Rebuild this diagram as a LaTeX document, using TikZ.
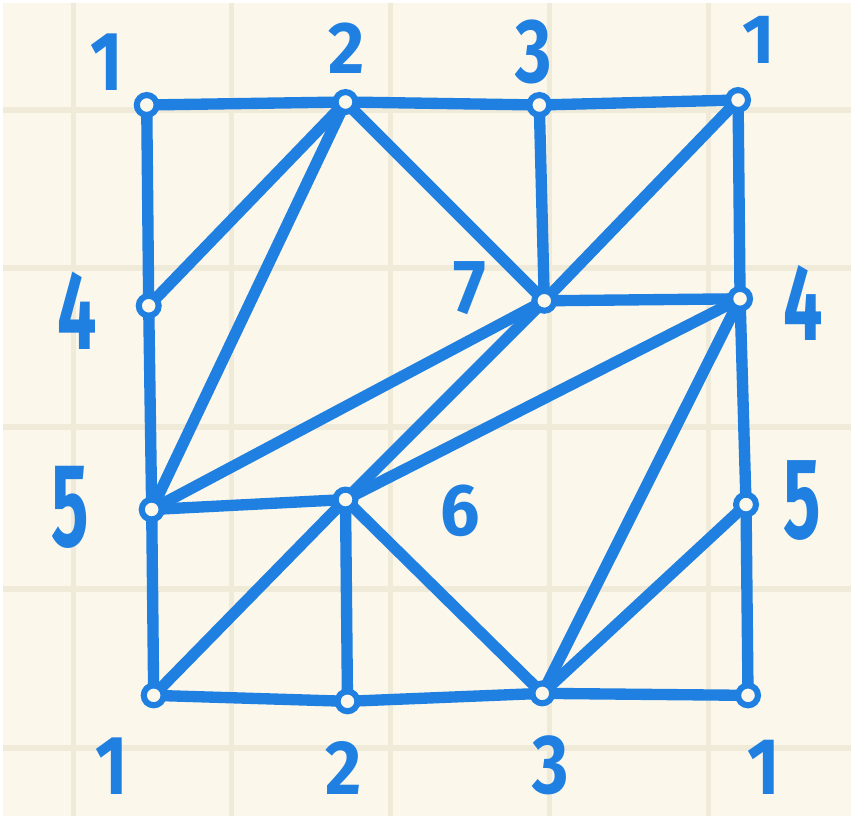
\documentclass[tikz,border=0pt]{standalone}
\usepackage{fontspec}
\usepackage{graphicx}
\setsansfont{Fira Sans}
\definecolor{paper}{HTML}{FBF8EB}
\definecolor{gridline}{HTML}{F0EAD8}
\definecolor{pen}{HTML}{1F80E2}
\newcommand{\tall}[2]{\scalebox{1}[#1]{#2}}
\tikzset{
  edge/.style={pen,line width=6.5pt,line cap=round},
  vtx/.style={circle,draw=pen,fill=paper,line width=3.5pt,minimum size=0.4cm,inner sep=0pt},
  lbl/.style={pen,inner sep=0pt,font=\sffamily\bfseries\fontsize{40}{40}\selectfont}
}
\begin{document}
\begin{tikzpicture}[x=0.02cm,y=-0.02cm]
  % paper and grid
  \fill[paper] (0,0) rectangle (854,818);
  \foreach \gx in {71,230,390,550,710}
    \draw[gridline,line width=3pt] (\gx,0) -- (\gx,818);
  \foreach \gy in {108,267,427,590,750}
    \draw[gridline,line width=3pt] (0,\gy) -- (854,\gy);

  % vertices of the square (opposite sides glued)
  \foreach \n/\x/\y in {tl/145/103, t2/345/100, t3/540/103, tr/740/98,
                        l4/147/305, v7/545/300, r4/742/298,
                        l5/150/510, v6/345/500, r5/748/505,
                        bl/152/697, b2/347/703, b3/543/695, br/750/697}
    \coordinate (\n) at (\x,\y);

  % boundary
  \foreach \a/\b in {tl/t2, t2/t3, t3/tr, tl/l4, l4/l5, l5/bl,
                     tr/r4, r4/r5, r5/br, bl/b2, b2/b3, b3/br}
    \draw[edge] (\a) -- (\b);

  % interior edges
  \foreach \a/\b in {l4/t2, l5/t2, t2/v7, t3/v7, v7/tr, v7/r4, l5/v7,
                     v6/v7, v6/r4, l5/v6, bl/v6, v6/b2, v6/b3, b3/r4, b3/r5}
    \draw[edge] (\a) -- (\b);

  % vertex marks
  \foreach \n in {tl,t2,t3,tr,l4,v7,r4,l5,v6,r5,bl,b2,b3,br}
    \node[vtx] at (\n) {};

  % labels
  \node[lbl] (ltl) at (105,60) {\tall{1.2}{1}};
  \node[lbl] (lt2) at (346,46) {\tall{1.05}{2}};
  \node[lbl] (lt3) at (534,50) {\tall{1.3}{3}};
  \node[lbl] (ltr) at (761,38) {\tall{1.0}{1}};
  \node[lbl] (ll4) at (75,310) {\tall{1.6}{4}};
  \node[lbl] (lv7) at (470,287) {\tall{1.1}{7}};
  \node[lbl] (lr4) at (806,302) {\tall{1.55}{4}};
  \node[lbl] (ll5) at (68,508) {\tall{1.7}{5}};
  \node[lbl] (lv6) at (460,511) {\tall{1.05}{6}};
  \node[lbl] (lr5) at (805,501) {\tall{1.65}{5}};
  \node[lbl] (lbl1) at (110,768) {\tall{1.2}{1}};
  \node[lbl] (lb2) at (343,770) {\tall{1.1}{2}};
  \node[lbl] (lb3) at (551,767) {\tall{1.2}{3}};
  \node[lbl] (lbr) at (766,769) {\tall{1.15}{1}};
\end{tikzpicture}
\end{document}
